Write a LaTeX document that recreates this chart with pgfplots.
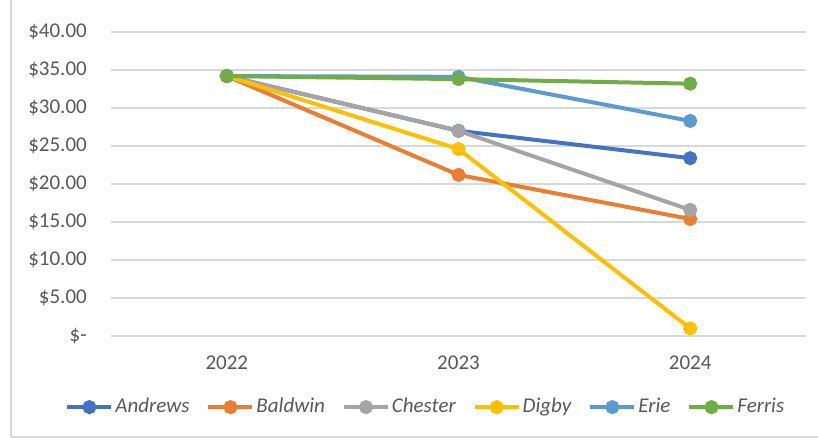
\documentclass[border=0pt]{standalone}
\usepackage{pgfplots}
\pgfplotsset{compat=1.18}
\usepackage{fontspec}
\setmainfont{Carlito}

\definecolor{cAndrews}{HTML}{4472C4}
\definecolor{cBaldwin}{HTML}{ED7D31}
\definecolor{cChester}{HTML}{A5A5A5}
\definecolor{cDigby}{HTML}{FFC000}
\definecolor{cErie}{HTML}{5B9BD5}
\definecolor{cFerris}{HTML}{70AD47}
\definecolor{gridgray}{HTML}{D9D9D9}
\definecolor{textgray}{HTML}{595959}

\begin{document}
\fontsize{21}{25}\selectfont
\begin{tikzpicture}
\useasboundingbox (0pt,0pt) rectangle (818pt,438pt);
% chart area border
\draw[gridgray, line width=1.2pt] (11pt,0pt) -- (11pt,438pt);
\draw[gridgray, line width=1.2pt] (11pt,1pt) -- (818pt,1pt);
\begin{axis}[
  at={(111pt,102pt)}, anchor=south west,
  scale only axis, width=695pt, height=304pt,
  xmin=-0.5, xmax=2.5, ymin=0, ymax=40,
  axis line style={draw=none},
  major tick length=0pt,
  xtick={0,1,2}, xticklabels={2022,2023,2024},
  ytick={0,5,...,40},
  yticklabels={\$-,\$5.00,\$10.00,\$15.00,\$20.00,\$25.00,\$30.00,\$35.00,\$40.00},
  ymajorgrids, grid style={gridgray, line width=1.5pt},
  tick label style={text=textgray, font=\fontsize{21}{25}\selectfont},
  yticklabel style={xshift=-17pt},
  xticklabel style={yshift=-13pt},
  clip=false,
  every axis plot/.append style={line width=4pt, mark=*, mark size=5pt},
  legend columns=-1,
  legend style={draw=none, fill=none, at={(axis description cs:0.453,-0.234)},
    anchor=center, font=\fontsize{21}{25}\selectfont\itshape, text=textgray,
    /tikz/every even column/.append style={column sep=15pt},
    inner sep=0pt},
  legend image code/.code={\draw[mark repeat=2,mark phase=2]
    plot coordinates {(0pt,0pt) (22pt,0pt) (44pt,0pt)};},
]
\addplot[cAndrews] coordinates {(0,34.2) (1,27.0) (2,23.4)};
\addlegendentry{Andrews}
\addplot[cBaldwin] coordinates {(0,34.2) (1,21.2) (2,15.4)};
\addlegendentry{Baldwin}
\addplot[cChester] coordinates {(0,34.2) (1,27.0) (2,16.6)};
\addlegendentry{Chester}
\addplot[cDigby] coordinates {(0,34.2) (1,24.6) (2,1.0)};
\addlegendentry{Digby}
\addplot[cErie] coordinates {(0,34.2) (1,34.1) (2,28.3)};
\addlegendentry{Erie}
\addplot[cFerris] coordinates {(0,34.2) (1,33.8) (2,33.2)};
\addlegendentry{Ferris}
\end{axis}
\end{tikzpicture}
\end{document}
